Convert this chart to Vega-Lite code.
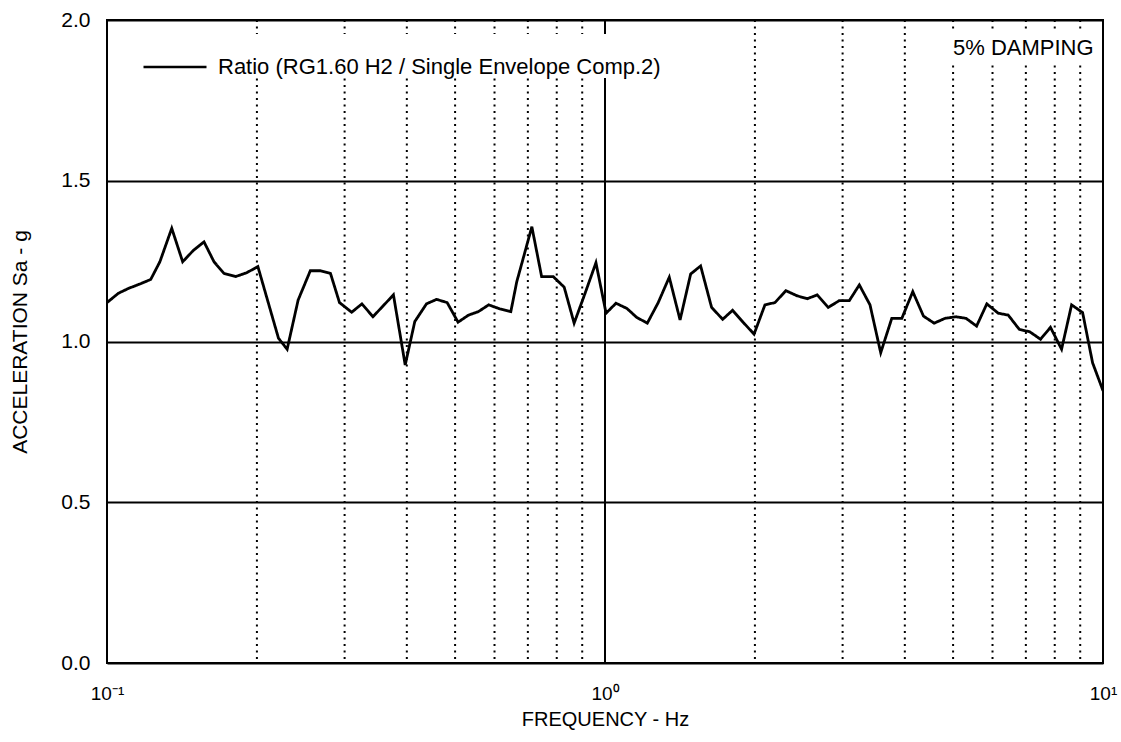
{
  "$schema": "https://vega.github.io/schema/vega-lite/v6.json",
  "width": 996,
  "height": 643,
  "autosize": {"type": "none"},
  "padding": {"left": 107, "top": 20, "right": 18, "bottom": 79},
  "background": "white",
  "config": {
    "view": {"stroke": "black", "strokeWidth": 2},
    "font": "Liberation Sans",
    "axis": {"labelFont": "Liberation Sans", "titleFont": "Liberation Sans", "labelColor": "black", "titleColor": "black", "domain": false, "ticks": false}
  },
  "datasets": {
    "ratio": [
      {"f": 0.100, "v": 1.121}, {"f": 0.1054, "v": 1.150}, {"f": 0.1104, "v": 1.165}, {"f": 0.1165, "v": 1.179},
      {"f": 0.1224, "v": 1.193}, {"f": 0.1277, "v": 1.248}, {"f": 0.1349, "v": 1.352}, {"f": 0.1419, "v": 1.248},
      {"f": 0.149, "v": 1.283}, {"f": 0.1566, "v": 1.310}, {"f": 0.164, "v": 1.248}, {"f": 0.1717, "v": 1.212},
      {"f": 0.1813, "v": 1.202}, {"f": 0.1908, "v": 1.214}, {"f": 0.2009, "v": 1.233}, {"f": 0.221, "v": 1.010},
      {"f": 0.230, "v": 0.976}, {"f": 0.242, "v": 1.129}, {"f": 0.256, "v": 1.220}, {"f": 0.268, "v": 1.220},
      {"f": 0.281, "v": 1.212}, {"f": 0.293, "v": 1.121}, {"f": 0.310, "v": 1.091}, {"f": 0.325, "v": 1.117},
      {"f": 0.342, "v": 1.077}, {"f": 0.376, "v": 1.145}, {"f": 0.397, "v": 0.927}, {"f": 0.415, "v": 1.062},
      {"f": 0.438, "v": 1.117}, {"f": 0.459, "v": 1.131}, {"f": 0.482, "v": 1.121}, {"f": 0.507, "v": 1.060},
      {"f": 0.532, "v": 1.082}, {"f": 0.557, "v": 1.093}, {"f": 0.584, "v": 1.114}, {"f": 0.616, "v": 1.101},
      {"f": 0.647, "v": 1.093}, {"f": 0.665, "v": 1.186}, {"f": 0.688, "v": 1.269}, {"f": 0.713, "v": 1.357},
      {"f": 0.746, "v": 1.202}, {"f": 0.787, "v": 1.202}, {"f": 0.828, "v": 1.169}, {"f": 0.867, "v": 1.057},
      {"f": 0.912, "v": 1.150}, {"f": 0.959, "v": 1.245}, {"f": 1.005, "v": 1.088}, {"f": 1.052, "v": 1.119},
      {"f": 1.106, "v": 1.103}, {"f": 1.158, "v": 1.075}, {"f": 1.216, "v": 1.057}, {"f": 1.279, "v": 1.121},
      {"f": 1.346, "v": 1.200}, {"f": 1.415, "v": 1.067}, {"f": 1.486, "v": 1.210}, {"f": 1.556, "v": 1.235},
      {"f": 1.637, "v": 1.106}, {"f": 1.723, "v": 1.069}, {"f": 1.804, "v": 1.097}, {"f": 1.896, "v": 1.059},
      {"f": 1.992, "v": 1.023}, {"f": 2.095, "v": 1.114}, {"f": 2.194, "v": 1.121}, {"f": 2.308, "v": 1.158},
      {"f": 2.432, "v": 1.142}, {"f": 2.548, "v": 1.133}, {"f": 2.668, "v": 1.145}, {"f": 2.807, "v": 1.106},
      {"f": 2.953, "v": 1.127}, {"f": 3.094, "v": 1.127}, {"f": 3.241, "v": 1.176}, {"f": 3.405, "v": 1.114},
      {"f": 3.578, "v": 0.965}, {"f": 3.766, "v": 1.072}, {"f": 3.945, "v": 1.072}, {"f": 4.150, "v": 1.155},
      {"f": 4.360, "v": 1.079}, {"f": 4.580, "v": 1.057}, {"f": 4.818, "v": 1.072}, {"f": 5.067, "v": 1.077},
      {"f": 5.308, "v": 1.072}, {"f": 5.574, "v": 1.048}, {"f": 5.844, "v": 1.117}, {"f": 6.160, "v": 1.088},
      {"f": 6.453, "v": 1.082}, {"f": 6.789, "v": 1.038}, {"f": 7.131, "v": 1.030}, {"f": 7.491, "v": 1.007},
      {"f": 7.844, "v": 1.044}, {"f": 8.257, "v": 0.976}, {"f": 8.649, "v": 1.114}, {"f": 9.100, "v": 1.090},
      {"f": 9.529, "v": 0.934}, {"f": 10.0, "v": 0.847}
    ],
    "minor": [
      {"f": 0.2}, {"f": 0.3}, {"f": 0.4}, {"f": 0.5}, {"f": 0.6}, {"f": 0.7}, {"f": 0.8}, {"f": 0.9},
      {"f": 2}, {"f": 3}, {"f": 4}, {"f": 5}, {"f": 6}, {"f": 7}, {"f": 8}, {"f": 9}
    ]
  },
  "layer": [
    {
      "data": {"name": "minor"},
      "mark": {"type": "rule", "stroke": "black", "strokeWidth": 2, "strokeDash": [2, 4.5]},
      "encoding": {
        "x": {"field": "f", "type": "quantitative", "scale": {"type": "log", "domain": [0.1, 10]}}
      }
    },
    {
      "data": {"values": [{"f": 1}]},
      "mark": {"type": "rule", "stroke": "black", "strokeWidth": 2},
      "encoding": {
        "x": {"field": "f", "type": "quantitative"}
      }
    },
    {
      "data": {"name": "ratio"},
      "mark": {"type": "line", "strokeWidth": 2.8, "clip": true, "interpolate": "linear"},
      "encoding": {
        "x": {
          "field": "f", "type": "quantitative",
          "scale": {"type": "log", "domain": [0.1, 10]},
          "axis": {
            "values": [0.1, 1, 10],
            "labelExpr": "datum.value < 0.5 ? '10⁻¹' : datum.value < 5 ? '10⁰' : '10¹'",
            "labelFontSize": 19,
            "labelPadding": 21,
            "labelFlush": false,
            "grid": false,
            "title": "FREQUENCY - Hz",
            "titleFontSize": 20,
            "titleFontWeight": "normal",
            "titlePadding": 6
          }
        },
        "y": {
          "field": "v", "type": "quantitative",
          "scale": {"domain": [0, 2]},
          "axis": {
            "values": [0, 0.5, 1, 1.5, 2],
            "format": ".1f",
            "labelFontSize": 21,
            "labelPadding": 17,
            "grid": true,
            "gridColor": "black",
            "gridWidth": 2,
            "gridOpacity": 1,
            "title": "ACCELERATION Sa - g",
            "titleFontSize": 21,
            "titleFontWeight": "normal",
            "titlePadding": 30
          }
        },
        "color": {
          "datum": "Ratio (RG1.60 H2 / Single Envelope Comp.2)",
          "type": "nominal",
          "scale": {"range": ["black"]},
          "legend": {
            "title": null,
            "orient": "none",
            "legendX": 35,
            "legendY": 14,
            "padding": 0,
            "fillColor": "white",
            "symbolType": "stroke",
            "symbolSize": 3969,
            "symbolStrokeWidth": 2.5,
            "labelFontSize": 22,
            "labelColor": "black",
            "labelFont": "Liberation Sans",
            "labelOffset": 10,
            "labelLimit": 700
          }
        },
        "strokeDash": {
          "datum": "5% DAMPING",
          "type": "nominal",
          "scale": {"range": [[1, 0]]},
          "legend": {
            "title": null,
            "orient": "none",
            "legendX": 818,
            "legendY": 11,
            "padding": 6,
            "fillColor": "white",
            "symbolOpacity": 0,
            "symbolSize": 0,
            "symbolStrokeWidth": 0,
            "labelOffset": 0,
            "labelFontSize": 22,
            "labelColor": "black",
            "labelFont": "Liberation Sans",
            "labelLimit": 300
          }
        }
      }
    }
  ]
}
